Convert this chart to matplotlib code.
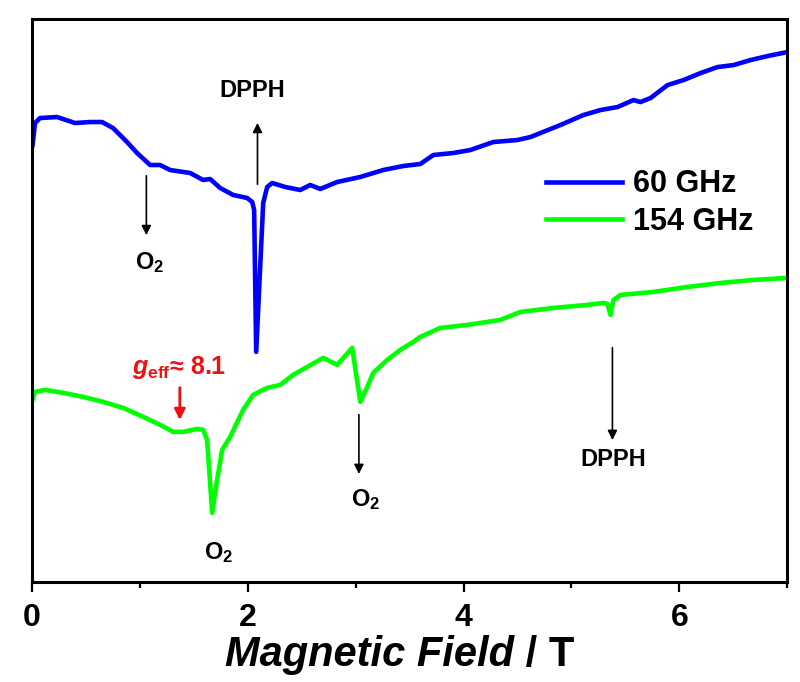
import matplotlib
matplotlib.use("Agg")
import matplotlib.pyplot as plt
from matplotlib.ticker import MultipleLocator

plt.rcParams['font.family'] = ['Liberation Sans', 'DejaVu Sans']
plt.rcParams['font.weight'] = 'bold'
plt.rcParams['mathtext.fontset'] = 'custom'
plt.rcParams['mathtext.rm'] = 'Liberation Sans:bold'
plt.rcParams['mathtext.it'] = 'Liberation Sans:italic:bold'
plt.rcParams['mathtext.bf'] = 'Liberation Sans:bold'

# 60 GHz trace (field in T, intensity in arb. units)
field_60 = [0.005, 0.028, 0.074, 0.232, 0.399, 0.538, 0.649, 0.751, 0.881, 0.974,
            1.095, 1.187, 1.280, 1.466, 1.586, 1.651, 1.744, 1.865, 1.994, 2.041,
            2.059, 2.078, 2.115, 2.143, 2.180, 2.226, 2.347, 2.486, 2.579, 2.672,
            2.829, 3.043, 3.256, 3.442, 3.599, 3.720, 3.905, 4.063, 4.276, 4.499,
            4.620, 4.898, 5.111, 5.269, 5.427, 5.575, 5.640, 5.733, 5.891, 6.039,
            6.197, 6.354, 6.503, 6.660, 6.818, 7.0]
int_60 = [437, 459, 464, 465, 459, 460, 460, 454, 440, 429,
          417, 417, 412, 409, 402, 403, 394, 387, 384, 380,
          372, 230, 315, 379, 395, 399, 395, 392, 397, 393,
          400, 405, 412, 416, 418, 427, 429, 432, 440, 442,
          445, 457, 467, 472, 475, 482, 480, 484, 497, 502,
          509, 515, 517, 522, 526, 530]

# 154 GHz trace
field_154 = [0.005, 0.028, 0.121, 0.288, 0.473, 0.659, 0.844, 1.030, 1.187, 1.308,
             1.401, 1.531, 1.586, 1.623, 1.670, 1.716, 1.763, 1.837, 1.957, 2.050,
             2.180, 2.301, 2.421, 2.551, 2.699, 2.829, 2.968, 3.043, 3.108, 3.163,
             3.293, 3.414, 3.534, 3.599, 3.785, 4.035, 4.341, 4.527, 4.833, 5.148,
             5.297, 5.334, 5.362, 5.390, 5.455, 5.761, 6.076, 6.382, 6.688, 7.0]
int_154 = [182, 190, 192, 189, 185, 180, 174, 165, 157, 150,
           150, 153, 152, 142, 69, 102, 132, 145, 172, 187,
           194, 197, 207, 215, 224, 217, 234, 180, 195, 209,
           222, 232, 240, 245, 254, 257, 262, 270, 274, 277,
           279, 278, 267, 282, 287, 290, 295, 299, 302, 304]

labels = ['60 GHz', '154 GHz']
colors = ['#0000ff', '#00ff00']

fig = plt.figure(figsize=(8, 6.82), dpi=100)
ax = fig.add_axes([0.04, 0.147, 0.944, 0.825])

ax.plot(field_60, int_60, color=colors[0], lw=3.3, label=labels[0], solid_joinstyle='round')
ax.plot(field_154, int_154, color=colors[1], lw=3.3, label=labels[1], solid_joinstyle='round')

ax.set_xlim(0, 7)
ax.set_ylim(0, 563)
ax.set_yticks([])
ax.xaxis.set_major_locator(MultipleLocator(2))
ax.xaxis.set_minor_locator(MultipleLocator(1))
ax.tick_params(axis='x', which='major', length=7, width=1.6, labelsize=23, pad=8)
ax.tick_params(axis='x', which='minor', length=4, width=1.6)
for s in ax.spines.values():
    s.set_linewidth(2.2)

arrow = dict(arrowstyle='-|>', color='black', lw=1.2, mutation_scale=14)

# 60 GHz annotations
ax.annotate('', xy=(1.06, 344), xytext=(1.06, 409), arrowprops=arrow)
ax.text(1.09, 319, 'O$_2$', fontsize=17, ha='center', va='center')
ax.annotate('', xy=(2.09, 462), xytext=(2.09, 395), arrowprops=arrow)
ax.text(2.04, 492, 'DPPH', fontsize=17, ha='center', va='center')

# 154 GHz annotations
ax.text(1.36, 214, r'$g_{\rm eff}$≈ 8.1', fontsize=18, color='#ee1111', ha='center', va='center')
ax.annotate('', xy=(1.37, 159), xytext=(1.37, 197),
            arrowprops=dict(arrowstyle='-|>', color='#ee1111', lw=2, mutation_scale=16))
ax.text(1.73, 29, 'O$_2$', fontsize=17, ha='center', va='center')
ax.annotate('', xy=(3.03, 105), xytext=(3.03, 170), arrowprops=arrow)
ax.text(3.09, 82, 'O$_2$', fontsize=17, ha='center', va='center')
ax.annotate('', xy=(5.38, 139), xytext=(5.38, 237), arrowprops=arrow)
ax.text(5.39, 122, 'DPPH', fontsize=17, ha='center', va='center')

ax.legend(loc='center', bbox_to_anchor=(0.818, 0.673), frameon=False, fontsize=22,
          handlelength=2.5, handletextpad=0.35, labelspacing=0.25, borderpad=0)

# x label: italic "Magnetic Field" followed by upright "/ T"
t1 = fig.text(0.281, 0.0235, 'Magnetic Field', fontsize=30, style='italic',
              ha='left', va='baseline')
ax.annotate(' / T', xy=(1, 0), xycoords=t1, fontsize=30, ha='left', va='bottom',
            annotation_clip=False)

fig.savefig('out.png', dpi=100)
